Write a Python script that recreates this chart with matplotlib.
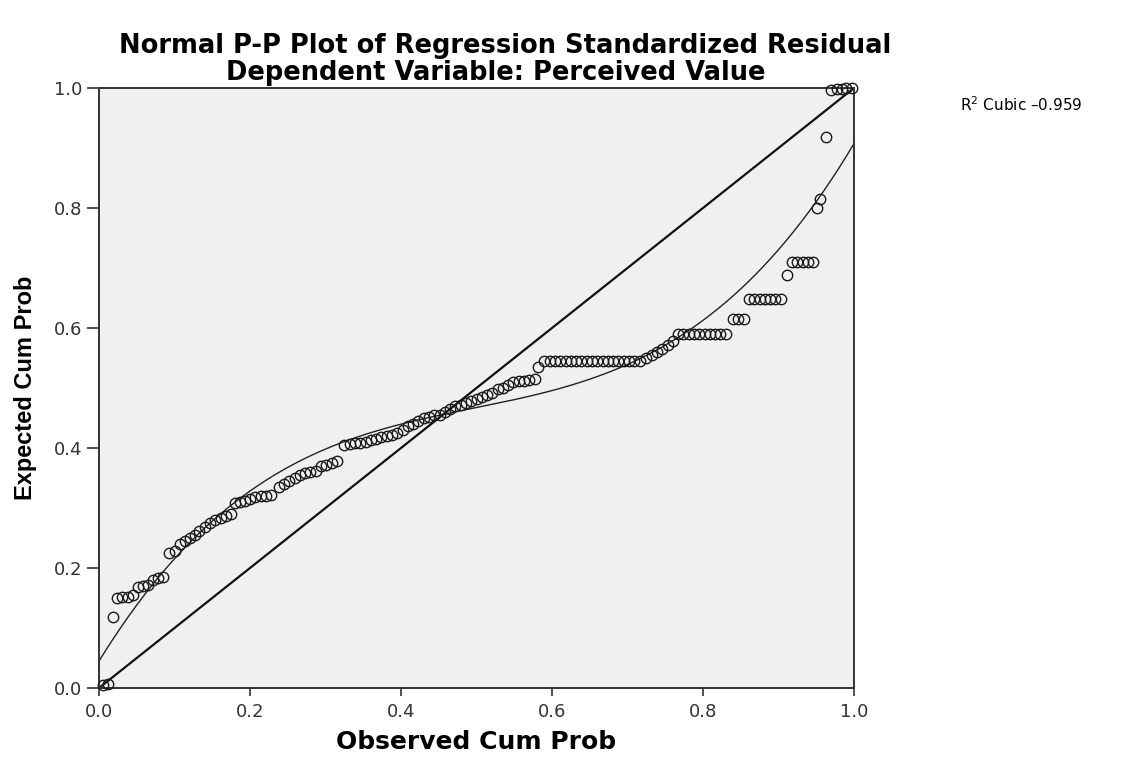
import matplotlib.pyplot as plt
import numpy as np

plt.rcParams['font.family'] = ['Liberation Sans', 'DejaVu Sans']

# observed cumulative probability (x) and expected cumulative probability (y)
observed = [0.005, 0.012, 0.019,
            0.024, 0.031, 0.038, 0.045,
            0.052, 0.058, 0.065,
            0.072, 0.078, 0.085,
            0.093, 0.100,
            0.107, 0.114, 0.120, 0.127, 0.133,
            0.140, 0.147, 0.154, 0.161, 0.168, 0.175,
            0.180, 0.187, 0.194, 0.200,
            0.207, 0.214, 0.221, 0.228,
            0.238, 0.245, 0.252, 0.259, 0.266, 0.273, 0.280, 0.287, 0.294, 0.301, 0.308, 0.315,
            0.325, 0.332, 0.339, 0.346, 0.353,
            0.360, 0.367, 0.374, 0.381, 0.388, 0.395, 0.402,
            0.409, 0.416, 0.423, 0.430, 0.437, 0.444, 0.451,
            0.458, 0.465, 0.472, 0.479, 0.486, 0.493,
            0.500, 0.507, 0.514, 0.521, 0.528, 0.535,
            0.542, 0.549, 0.556, 0.563, 0.570, 0.577,
            0.582,
            0.590, 0.597, 0.604, 0.611, 0.618, 0.625, 0.632, 0.639, 0.646, 0.653,
            0.660, 0.667, 0.674, 0.681, 0.688, 0.695, 0.702, 0.709, 0.716,
            0.725, 0.732, 0.739, 0.746, 0.753, 0.760,
            0.767, 0.774, 0.781, 0.788, 0.795, 0.802, 0.809, 0.816, 0.823, 0.830,
            0.840, 0.847, 0.854,
            0.861, 0.868, 0.875, 0.882, 0.889, 0.896, 0.903,
            0.911,
            0.918, 0.925, 0.932, 0.939, 0.946,
            0.951, 0.955,
            0.963,
            0.970, 0.977, 0.984, 0.990, 0.997]

expected = [0.005, 0.007, 0.118,
            0.150, 0.152, 0.152, 0.155,
            0.168, 0.170, 0.172,
            0.180, 0.183, 0.185,
            0.225, 0.228,
            0.240, 0.245, 0.250, 0.255, 0.262,
            0.268, 0.275, 0.280, 0.283, 0.287, 0.290,
            0.308, 0.310, 0.312, 0.315,
            0.318, 0.320, 0.320, 0.322,
            0.335, 0.340, 0.345, 0.350, 0.355, 0.358, 0.360, 0.362, 0.370, 0.372, 0.375, 0.378,
            0.405, 0.407, 0.408, 0.408, 0.410,
            0.413, 0.415, 0.418, 0.420, 0.422, 0.425, 0.430,
            0.437, 0.440, 0.445, 0.450, 0.452, 0.455, 0.455,
            0.460, 0.465, 0.470, 0.472, 0.475, 0.478,
            0.482, 0.485, 0.488, 0.492, 0.498, 0.500,
            0.505, 0.510, 0.512, 0.512, 0.513, 0.515,
            0.535,
            0.545, 0.545, 0.545, 0.545, 0.545, 0.545, 0.545, 0.545, 0.545, 0.545,
            0.545, 0.545, 0.545, 0.545, 0.545, 0.545, 0.545, 0.545, 0.545,
            0.550, 0.555, 0.560, 0.565, 0.572, 0.578,
            0.590, 0.590, 0.590, 0.590, 0.590, 0.590, 0.590, 0.590, 0.590, 0.590,
            0.615, 0.615, 0.615,
            0.648, 0.648, 0.648, 0.648, 0.648, 0.648, 0.648,
            0.688,
            0.710, 0.710, 0.710, 0.710, 0.710,
            0.800, 0.815,
            0.918,
            0.997, 0.998, 0.999, 1.000, 1.000]

r2_label = "R$^2$ Cubic \u20130.959"
ticks = [0.0, 0.2, 0.4, 0.6, 0.8, 1.0]

# the original picture is stretched sideways, so wide DejaVu is used for horizontal text
wide = 'DejaVu Sans'

fig = plt.figure(figsize=(11.27, 7.61), dpi=100)
ax = fig.add_axes([99 / 1127, 1 - 688 / 761, 755 / 1127, 600 / 761])
ax.set_facecolor('#f0f0f0')

# cubic fit through the points
coef = np.polyfit(observed, expected, 3)
xs = np.linspace(0, 1, 200)
ax.plot(xs, np.polyval(coef, xs), color='#222222', lw=1.0, zorder=2)

# reference diagonal
ax.plot([0, 1], [0, 1], color='#111111', lw=1.6, zorder=2)

ax.plot(observed, expected, 'o', mfc='none', mec='#1a1a1a', ms=7.5, mew=1.0, zorder=3, clip_on=False)

ax.set_xlim(0, 1)
ax.set_ylim(0, 1)
ax.set_xticks(ticks)
ax.set_yticks(ticks)
ax.set_xticklabels(["%.1f" % t for t in ticks], family=wide, fontsize=13)
ax.set_yticklabels(["%.1f" % t for t in ticks], family=wide, fontsize=13)
ax.tick_params(direction='out', width=1.2, colors='#333333')
ax.tick_params(axis='x', length=6, pad=5)
ax.tick_params(axis='y', length=9, pad=3)
for s in ax.spines.values():
    s.set_linewidth(1.4)
    s.set_color('#333333')

ax.set_xlabel("Observed Cum Prob", fontsize=18, fontweight='bold', family=wide, labelpad=6)
ax.set_ylabel("Expected Cum Prob", fontsize=17, fontweight='bold', labelpad=12)

fig.text(505 / 1127, 1 - 46 / 761, "Normal P-P Plot of Regression Standardized Residual",
         ha='center', va='center', fontsize=18.5, fontweight='bold', family=wide)
fig.text(496 / 1127, 1 - 73 / 761, "Dependent Variable: Perceived Value",
         ha='center', va='center', fontsize=18.5, fontweight='bold', family=wide)
fig.text(960 / 1127, 1 - 105 / 761, r2_label, ha='left', va='center', fontsize=11, family=wide)

fig.savefig("out.png", dpi=100)
